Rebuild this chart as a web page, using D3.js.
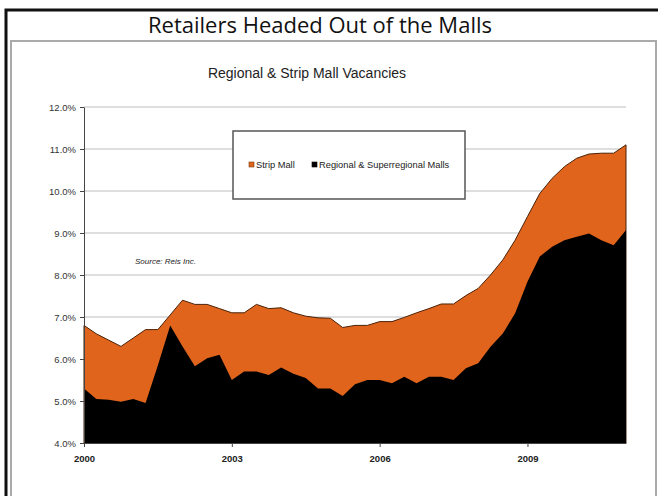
<!DOCTYPE html>
<html>
<head>
<meta charset="utf-8">
<script src="https://cdn.jsdelivr.net/npm/d3@7"></script>
<style>
  body { margin: 0; background: #fff; }
  svg { display: block; }
  .axis text { font-family: "Liberation Sans", Arial, sans-serif; font-size: 9.5px; fill: #333; }
  .axis path, .axis line { stroke: #444; }
</style>
</head>
<body>
<div id="chart"></div>
<script>
// quarterly readings, 2000 Q1 .. 2011 Q1
const startYear = 2000;
const stripMall = [6.8, 6.6, 6.45, 6.3, 6.5, 6.7, 6.7, 7.05, 7.4, 7.3, 7.3, 7.2, 7.1, 7.1, 7.3, 7.2,
    7.22, 7.1, 7.02, 6.98, 6.97, 6.75, 6.8, 6.8, 6.89, 6.89, 6.99, 7.1, 7.2, 7.31, 7.31, 7.51,
    7.68, 8.0, 8.36, 8.83, 9.39, 9.94, 10.3, 10.58, 10.78, 10.88, 10.9, 10.9, 11.1];
const regionalMalls = [5.3, 5.05, 5.03, 4.98, 5.05, 4.95, 5.85, 6.8, 6.3, 5.83, 6.02, 6.1, 5.5, 5.7, 5.7, 5.62,
    5.8, 5.65, 5.55, 5.3, 5.3, 5.12, 5.4, 5.5, 5.5, 5.42, 5.58, 5.42, 5.58, 5.58, 5.5, 5.78,
    5.9, 6.29, 6.61, 7.09, 7.84, 8.44, 8.67, 8.83, 8.91, 8.99, 8.83, 8.71, 9.07];
const yTicks = [4, 5, 6, 7, 8, 9, 10, 11, 12];
const xTicks = [2000, 2003, 2006, 2009];
const seriesNames = ["Strip Mall", "Regional & Superregional Malls"];
const seriesColors = ["#e0641c", "#000000"];

const width = 658, height = 496;

const svg = d3.select("#chart").append("svg")
    .attr("width", width)
    .attr("height", height);

svg.append("rect").attr("width", width).attr("height", height).attr("fill", "#fff");

// outer black frame and inner grey panel
svg.append("path")
    .attr("d", `M6,${height} V10 H${width}`)
    .attr("fill", "none")
    .attr("stroke", "#111")
    .attr("stroke-width", 3);

svg.append("rect")
    .attr("x", 11).attr("y", 41)
    .attr("width", 645).attr("height", 470)
    .attr("fill", "none")
    .attr("stroke", "#aaa")
    .attr("stroke-width", 2);

svg.append("text")
    .attr("x", 320).attr("y", 33)
    .attr("text-anchor", "middle")
    .style("font-family", "'Open Sans', sans-serif")
    .style("font-size", "22px")
    .style("fill", "#111")
    .text("Retailers Headed Out of the Malls");

svg.append("text")
    .attr("x", 307).attr("y", 78)
    .attr("text-anchor", "middle")
    .style("font-family", "'Liberation Sans', Arial, sans-serif")
    .style("font-size", "14px")
    .style("fill", "#222")
    .text("Regional & Strip Mall Vacancies");

// scales
const x = d3.scaleLinear().domain([2000, 2011]).range([84, 626]);
const y = d3.scaleLinear().domain([4, 12]).range([443, 107]);

const rows = stripMall.map((v, i) => ({ t: startYear + i / 4, strip: v, regional: regionalMalls[i] }));

// gridlines
svg.append("g")
    .selectAll("line")
    .data(yTicks.slice(1))
    .enter()
    .append("line")
    .attr("x1", x(2000)).attr("x2", x(2011))
    .attr("y1", d => y(d)).attr("y2", d => y(d))
    .attr("stroke", "#bdbdbd")
    .attr("stroke-width", 1);

// areas
const stripArea = d3.area()
    .x(d => x(d.t))
    .y0(y(4))
    .y1(d => y(d.strip));

const regionalArea = d3.area()
    .x(d => x(d.t))
    .y0(y(4))
    .y1(d => y(d.regional));

svg.append("path")
    .datum(rows)
    .attr("d", stripArea)
    .attr("fill", seriesColors[0])
    .attr("stroke", "#4a2208")
    .attr("stroke-width", 1);

svg.append("path")
    .datum(rows)
    .attr("d", regionalArea)
    .attr("fill", seriesColors[1]);

// axes
svg.append("g")
    .attr("class", "axis")
    .attr("transform", `translate(${x(2000)},0)`)
    .call(d3.axisLeft(y).tickValues(yTicks).tickSize(4).tickSizeOuter(0).tickPadding(4)
        .tickFormat(d => d.toFixed(1) + "%"));

const xAxis = svg.append("g")
    .attr("class", "axis")
    .attr("transform", `translate(0,${y(4)})`)
    .call(d3.axisBottom(x).tickValues(xTicks).tickSize(4).tickSizeOuter(0).tickPadding(8)
        .tickFormat(d3.format("d")));
xAxis.selectAll("text").style("font-weight", "bold").style("fill", "#222");

// legend
const legend = svg.append("g");
legend.append("rect")
    .attr("x", 233).attr("y", 131)
    .attr("width", 232).attr("height", 68)
    .attr("fill", "#fff")
    .attr("stroke", "#555")
    .attr("stroke-width", 1.5);

const legendX = [249, 312];
legendX.forEach((lx, i) => {
    legend.append("rect")
        .attr("x", lx).attr("y", 162)
        .attr("width", 5).attr("height", 5)
        .attr("fill", seriesColors[i])
        .attr("stroke", i === 0 ? "#7a3a12" : "#000")
        .attr("stroke-width", 0.6);
    legend.append("text")
        .attr("x", lx + 7).attr("y", 168)
        .style("font-family", "'Liberation Sans', Arial, sans-serif")
        .style("font-size", "9.3px")
        .style("fill", "#222")
        .text(seriesNames[i]);
});

svg.append("text")
    .attr("x", 135).attr("y", 264)
    .style("font-family", "'Liberation Sans', Arial, sans-serif")
    .style("font-size", "8px")
    .style("font-style", "italic")
    .style("fill", "#222")
    .text("Source: Reis Inc.");
</script>
</body>
</html>
